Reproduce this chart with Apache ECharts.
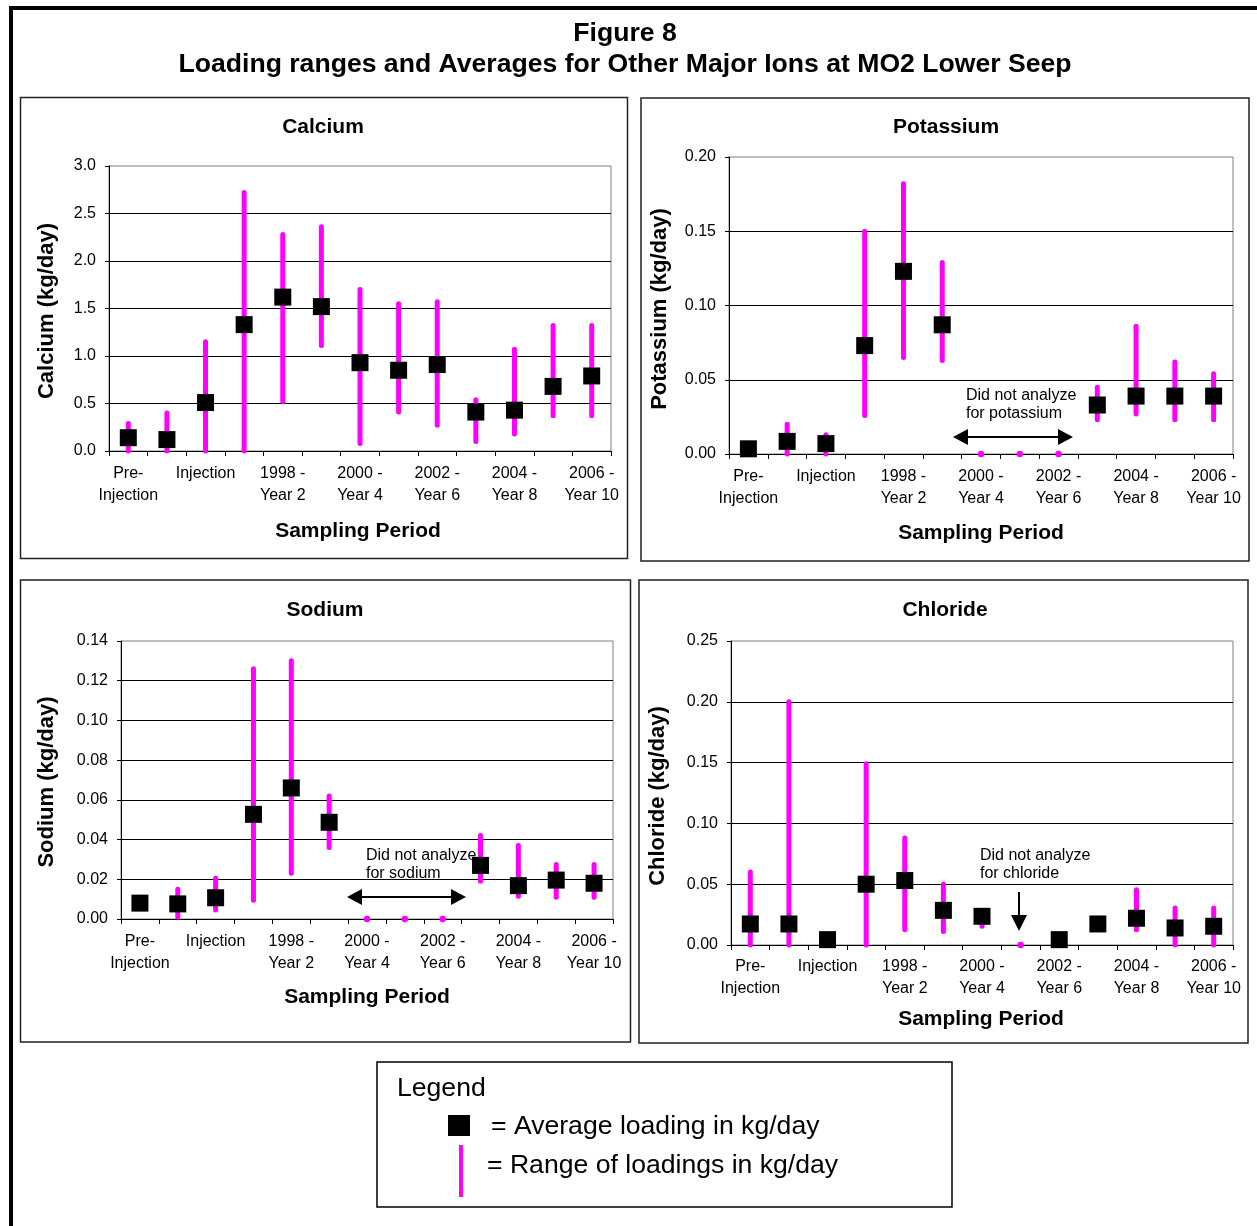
<!DOCTYPE html>
<html>
<head>
<meta charset="utf-8">
<script src="https://cdn.jsdelivr.net/npm/echarts@6/dist/echarts.min.js"></script>
<style>
html,body{margin:0;padding:0;background:#fff;}
#chart{width:1257px;height:1226px;}
</style>
</head>
<body>
<div id="chart"></div>
<script>
// ---------------- DATA ----------------
const categories = ['Pre-\nInjection', '', 'Injection', '', '1998 -\nYear 2', '', '2000 -\nYear 4', '', '2002 -\nYear 6', '', '2004 -\nYear 8', '', '2006 -\nYear 10'];

const calciumAvg  = [0.14, 0.12, 0.51, 1.33, 1.62, 1.52, 0.93, 0.85, 0.91, 0.41, 0.43, 0.68, 0.79];
const calciumLow  = [0.00, 0.00, 0.00, 0.00, 0.52, 1.11, 0.08, 0.41, 0.27, 0.10, 0.18, 0.37, 0.37];
const calciumHigh = [0.29, 0.40, 1.15, 2.72, 2.28, 2.36, 1.70, 1.55, 1.57, 0.54, 1.07, 1.32, 1.32];

const potassiumAvg  = [0.0035, 0.0085, 0.007, 0.073, 0.123, 0.087, null, null, null, 0.033, 0.039, 0.039, 0.039];
const potassiumLow  = [0.003, 0.000, 0.000, 0.026, 0.065, 0.063, 0, 0, 0, 0.023, 0.027, 0.023, 0.023];
const potassiumHigh = [0.004, 0.020, 0.013, 0.150, 0.182, 0.129, 0, 0, 0, 0.045, 0.086, 0.062, 0.054];

const sodiumAvg  = [0.008, 0.0076, 0.0107, 0.0527, 0.066, 0.0487, null, null, null, 0.027, 0.0168, 0.0196, 0.018];
const sodiumLow  = [0.007, 0.001, 0.0045, 0.0095, 0.023, 0.036, 0, 0, 0, 0.019, 0.0115, 0.011, 0.011];
const sodiumHigh = [0.009, 0.015, 0.0205, 0.126, 0.130, 0.062, 0, 0, 0, 0.042, 0.037, 0.0275, 0.0275];

const chlorideAvg  = [0.0173, 0.0173, 0.0044, 0.050, 0.053, 0.0285, 0.0236, null, 0.0044, 0.0173, 0.022, 0.014, 0.0154];
const chlorideLow  = [0.000, 0.000, 0.003, 0.000, 0.0125, 0.011, 0.0154, 0, 0.003, 0.016, 0.0125, 0.000, 0.000];
const chlorideHigh = [0.060, 0.200, 0.006, 0.149, 0.088, 0.050, 0.027, 0, 0.006, 0.019, 0.0455, 0.0305, 0.0305];

const yMax      = [3.0, 0.20, 0.14, 0.25];
const yInterval = [0.5, 0.05, 0.02, 0.05];
const yDecimals = [1, 2, 2, 2];

const panelTitles = ['Calcium', 'Potassium', 'Sodium', 'Chloride'];
const yTitles = ['Calcium (kg/day)', 'Potassium (kg/day)', 'Sodium (kg/day)', 'Chloride (kg/day)'];
const xTitle = 'Sampling Period';
const mainTitle1 = 'Figure 8';
const mainTitle2 = 'Loading ranges and Averages for Other Major Ions at MO2 Lower Seep';
const noteLines = { potassium: 'Did not analyze\nfor potassium', sodium: 'Did not analyze\nfor sodium', chloride: 'Did not analyze\nfor chloride' };
const legendTitle = 'Legend';
const legendAvg = '= Average loading in kg/day';
const legendRange = '= Range of loadings in kg/day';

// ---------------- LAYOUT ----------------
const FONT = '"Liberation Sans", Arial, Helvetica, sans-serif';
const MAG = '#FF00FF';
const grids = [
  { left: 109, top: 166, width: 502, height: 285 },
  { left: 729, top: 157, width: 504, height: 297 },
  { left: 121, top: 641, width: 492, height: 278 },
  { left: 731, top: 641, width: 502, height: 304 }
];
const labelMargins = [12, 12, 12, 11];
const panelBoxes = [
  [20.5, 97.5, 607, 461],
  [641, 98, 608, 463],
  [20.5, 580, 610, 462],
  [639, 580, 609, 463]
];
const titlePos  = [[323, 127], [946, 127], [325, 610], [945, 610]];
const xTitlePos = [[358, 531], [981, 533], [367, 997], [981, 1019]];
const yTitlePos = [[47, 311], [660, 309], [47, 782], [658, 796]];

const series = [];
const allLow = [calciumLow, potassiumLow, sodiumLow, chlorideLow];
const allHigh = [calciumHigh, potassiumHigh, sodiumHigh, chlorideHigh];
const allAvg = [calciumAvg, potassiumAvg, sodiumAvg, chlorideAvg];

function rangeRender(params, api) {
  const x = api.value(0);
  const p1 = api.coord([x, api.value(1)]);
  const p2 = api.coord([x, api.value(2)]);
  if (Math.abs(p1[1] - p2[1]) < 0.5) {
    return { type: 'circle', shape: { cx: p1[0], cy: p1[1], r: 3.2 }, style: { fill: MAG } };
  }
  return {
    type: 'line',
    shape: { x1: p1[0], y1: p1[1], x2: p2[0], y2: p2[1] },
    style: { stroke: MAG, lineWidth: 5, lineCap: 'round' }
  };
}

for (let g = 0; g < 4; g++) {
  const rdata = [];
  for (let i = 0; i < categories.length; i++) {
    if (allLow[g][i] != null) rdata.push([i, allLow[g][i], allHigh[g][i]]);
  }
  series.push({
    type: 'custom', xAxisIndex: g, yAxisIndex: g,
    renderItem: rangeRender, encode: { x: 0, y: [1, 2] }, data: rdata, z: 3
  });
  const adata = [];
  allAvg[g].forEach((v, i) => { if (v != null) adata.push([i, v]); });
  series.push({
    type: 'scatter', xAxisIndex: g, yAxisIndex: g, symbol: 'rect', symbolSize: 17,
    itemStyle: { color: '#000', opacity: 1 }, data: adata, z: 4
  });
}

const xAxes = grids.map((_, g) => ({
  type: 'category', gridIndex: g, data: categories, boundaryGap: true,
  axisLine: { show: true, lineStyle: { color: '#000', width: 1 } },
  axisTick: { show: true, interval: 0, length: 5, lineStyle: { color: '#000' } },
  axisLabel: { interval: 0, color: '#000', fontSize: 16, lineHeight: 22, margin: labelMargins[g], fontFamily: FONT },
  splitLine: { show: false }
}));
const yAxes = grids.map((_, g) => ({
  type: 'value', gridIndex: g, min: 0, max: yMax[g], interval: yInterval[g],
  axisLine: { show: true, lineStyle: { color: '#000', width: 1 } },
  axisTick: { show: true, length: 4, lineStyle: { color: '#000' } },
  axisLabel: { color: '#000', fontSize: 16, margin: 13, fontFamily: FONT,
    formatter: v => v.toFixed(yDecimals[g]) },
  splitLine: { show: true, showMaxLine: false, showMinLine: false, lineStyle: { color: '#000', width: 1 } }
}));

function txt(text, x, y, font, align, extra) {
  return Object.assign({
    type: 'text', x: x, y: y, z: 10,
    style: { text: text, x: 0, y: 0, font: font, fill: '#000', align: align || 'center', verticalAlign: 'middle', lineHeight: 18 }
  }, extra || {});
}

const graphic = [];
// outer frame
graphic.push({ type: 'rect', z: 1, shape: { x: 11, y: 8, width: 1270, height: 1260 }, style: { fill: 'none', stroke: '#000', lineWidth: 4 } });
// panel boxes
panelBoxes.forEach(b => graphic.push({ type: 'rect', z: 1, shape: { x: b[0], y: b[1], width: b[2], height: b[3] }, style: { fill: 'none', stroke: '#222', lineWidth: 1.5 } }));
// main titles
graphic.push(txt(mainTitle1, 625, 34, 'bold 26.6px ' + FONT));
graphic.push(txt(mainTitle2, 625, 65, 'bold 26.6px ' + FONT));
// panel titles & axis titles
for (let g = 0; g < 4; g++) {
  graphic.push(txt(panelTitles[g], titlePos[g][0], titlePos[g][1], 'bold 21px ' + FONT));
  graphic.push(txt(xTitle, xTitlePos[g][0], xTitlePos[g][1], 'bold 21px ' + FONT));
  graphic.push(txt(yTitles[g], yTitlePos[g][0], yTitlePos[g][1], 'bold 22px ' + FONT, 'center', { rotation: Math.PI / 2 }));
}
// annotations
graphic.push(txt(noteLines.potassium, 966, 405, '16px ' + FONT, 'left'));
graphic.push(txt(noteLines.sodium, 366, 865, '16px ' + FONT, 'left'));
graphic.push(txt(noteLines.chloride, 980, 865, '16px ' + FONT, 'left'));

function hArrow(x1, x2, y) {
  const h = 15, w = 8;
  graphic.push({ type: 'line', z: 10, shape: { x1: x1 + h - 2, y1: y, x2: x2 - h + 2, y2: y }, style: { stroke: '#000', lineWidth: 2 } });
  graphic.push({ type: 'polygon', z: 10, shape: { points: [[x1, y], [x1 + h, y - w], [x1 + h, y + w]] }, style: { fill: '#000' } });
  graphic.push({ type: 'polygon', z: 10, shape: { points: [[x2, y], [x2 - h, y - w], [x2 - h, y + w]] }, style: { fill: '#000' } });
}
hArrow(953, 1073, 437);
hArrow(347, 466, 897);
// down arrow chloride
graphic.push({ type: 'line', z: 10, shape: { x1: 1019, y1: 892, x2: 1019, y2: 918 }, style: { stroke: '#000', lineWidth: 2 } });
graphic.push({ type: 'polygon', z: 10, shape: { points: [[1019, 931], [1011, 915], [1027, 915]] }, style: { fill: '#000' } });

// legend box
graphic.push({ type: 'rect', z: 1, shape: { x: 377, y: 1062, width: 575, height: 145 }, style: { fill: 'none', stroke: '#000', lineWidth: 1.5 } });
graphic.push(txt(legendTitle, 397, 1089, '26.6px ' + FONT, 'left'));
graphic.push({ type: 'rect', z: 10, shape: { x: 448, y: 1115, width: 22, height: 21 }, style: { fill: '#000' } });
graphic.push(txt(legendAvg, 491, 1127, '26.6px ' + FONT, 'left'));
graphic.push({ type: 'line', z: 10, shape: { x1: 461, y1: 1145, x2: 461, y2: 1197 }, style: { stroke: MAG, lineWidth: 4 } });
graphic.push(txt(legendRange, 487, 1166, '26.6px ' + FONT, 'left'));

const chart = echarts.init(document.getElementById('chart'), null, { renderer: 'canvas' });
chart.setOption({
  animation: false,
  backgroundColor: '#fff',
  textStyle: { fontFamily: FONT },
  grid: grids.map(gr => Object.assign({ show: true, borderColor: '#808080', borderWidth: 1, backgroundColor: '#fff', containLabel: false }, gr)),
  xAxis: xAxes,
  yAxis: yAxes,
  series: series,
  graphic: graphic
});
</script>
</body>
</html>
